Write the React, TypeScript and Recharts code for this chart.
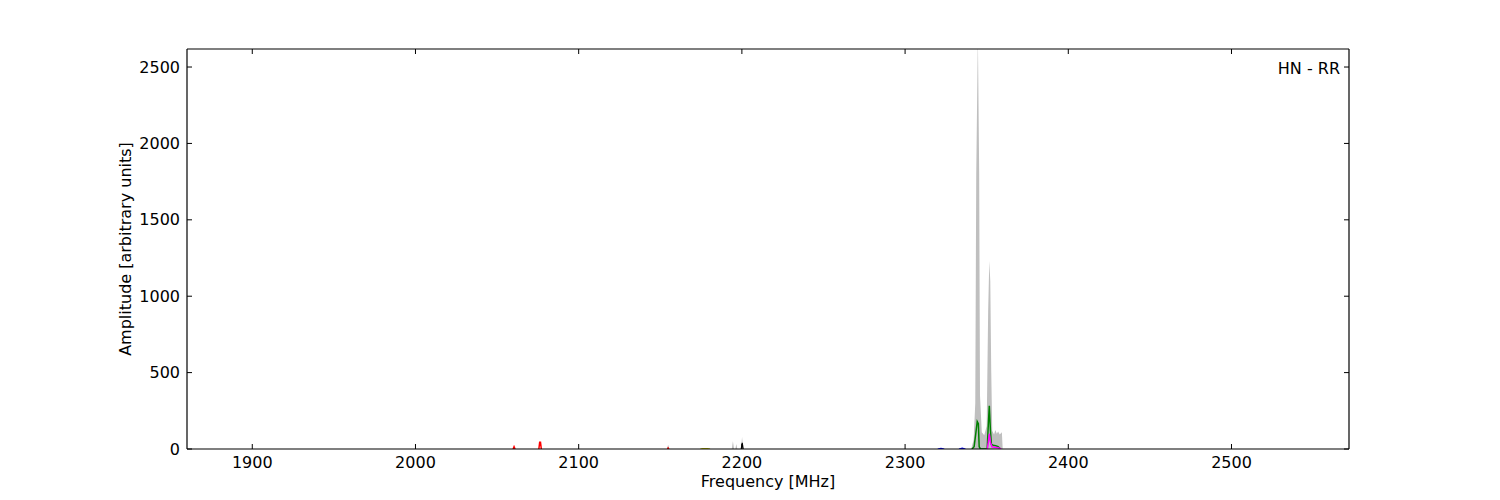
import React from "react";
import { ComposedChart, Area, Line, XAxis, YAxis } from "recharts";

const xTicks = [1900, 2000, 2100, 2200, 2300, 2400, 2500];
const yTicks = [0, 500, 1000, 1500, 2000, 2500];

const gray = [
  { f: 1860, a: 0 }, { f: 2154, a: 0 }, { f: 2154.8, a: 28 }, { f: 2155.6, a: 0 },
  { f: 2193.8, a: 0 }, { f: 2194.5, a: 50 }, { f: 2195.2, a: 0 },
  { f: 2196, a: 0 }, { f: 2196.6, a: 33 }, { f: 2197.2, a: 0 },
  { f: 2199.5, a: 0 }, { f: 2200.1, a: 78 }, { f: 2200.8, a: 0 },
  { f: 2340.5, a: 0 }, { f: 2342, a: 60 }, { f: 2343, a: 300 }, { f: 2343.6, a: 1800 },
  { f: 2344.6, a: 2700 }, { f: 2345.4, a: 1800 }, { f: 2345.9, a: 350 }, { f: 2347, a: 110 },
  { f: 2348.5, a: 90 }, { f: 2350, a: 150 }, { f: 2350.9, a: 900 }, { f: 2351.6, a: 1230 },
  { f: 2352.2, a: 1100 }, { f: 2352.8, a: 500 }, { f: 2353.4, a: 120 }, { f: 2354.5, a: 95 },
  { f: 2355.3, a: 125 }, { f: 2356.2, a: 100 }, { f: 2357, a: 115 }, { f: 2358, a: 95 },
  { f: 2359.3, a: 110 }, { f: 2359.8, a: 0 }, { f: 2572, a: 0 },
];

const green = [
  { f: 2341, a: 0 }, { f: 2342.3, a: 15 }, { f: 2343.3, a: 100 }, { f: 2344.2, a: 180 },
  { f: 2344.9, a: 165 }, { f: 2345.4, a: 15 }, { f: 2346.2, a: 0 }, { f: 2350.3, a: 0 },
  { f: 2351, a: 160 }, { f: 2351.6, a: 283 }, { f: 2352.3, a: 120 }, { f: 2352.9, a: 30 },
  { f: 2354, a: 25 }, { f: 2355.5, a: 22 }, { f: 2357, a: 15 }, { f: 2358.5, a: 0 },
];

const magenta = [
  { f: 2350.4, a: 0 }, { f: 2351, a: 45 }, { f: 2351.6, a: 100 }, { f: 2352.3, a: 45 },
  { f: 2353.2, a: 15 }, { f: 2355, a: 12 }, { f: 2357, a: 8 }, { f: 2358.8, a: 0 },
];

const red = [
  { f: 2059.8, a: 0 }, { f: 2060.4, a: 15 }, { f: 2061, a: 0 }, { f: 2068, a: null },
  { f: 2075.6, a: 0 }, { f: 2076.1, a: 45 }, { f: 2076.6, a: 45 }, { f: 2077.1, a: 0 }, { f: 2110, a: null },
  { f: 2154.4, a: 0 }, { f: 2154.8, a: 6 }, { f: 2155.2, a: 0 },
];

const black = [
  { f: 2199.6, a: 0 }, { f: 2200.2, a: 40 }, { f: 2200.8, a: 0 },
];

const blue = [
  { f: 2320, a: 0 }, { f: 2322, a: 4 }, { f: 2324, a: 0 }, { f: 2328, a: null },
  { f: 2333, a: 0 }, { f: 2335, a: 5 }, { f: 2337, a: 0 },
];

const olive = [
  { f: 2174.5, a: 0 }, { f: 2176, a: 3 }, { f: 2179, a: 3 }, { f: 2180.5, a: 0 },
];

const font = "DejaVu Sans";
const FS = 16;
const tickStyle = { fontFamily: font, fontSize: FS, fill: "#000" };
const noTick = () => <g />;

export default function App() {
  return (
    <div style={{ position: "absolute", left: 0, top: 0, width: 1500, height: 500, background: "#fff" }}>
      <ComposedChart width={1500} height={500} margin={{ top: 48, right: 150, left: 0, bottom: 0 }}>
        <XAxis
          xAxisId="b"
          type="number"
          dataKey="f"
          domain={[1860, 2572]}
          allowDataOverflow
          ticks={xTicks}
          orientation="bottom"
          height={51}
          tickSize={-5}
          tickMargin={13}
          axisLine={{ stroke: "#000", strokeWidth: 1.2 }}
          tickLine={{ stroke: "#000" }}
          tick={tickStyle}
          label={{ value: "Frequency [MHz]", position: "insideBottom", offset: 13, style: { fontFamily: font, fontSize: FS, fill: "#000" } }}
        />
        <XAxis
          xAxisId="t"
          type="number"
          dataKey="f"
          domain={[1860, 2572]}
          allowDataOverflow
          ticks={xTicks}
          orientation="top"
          height={1}
          tickSize={-5}
          axisLine={{ stroke: "#000", strokeWidth: 1.2 }}
          tickLine={{ stroke: "#000" }}
          tick={noTick}
        />
        <YAxis
          yAxisId="l"
          type="number"
          domain={[0, 2618]}
          allowDataOverflow
          ticks={yTicks}
          orientation="left"
          width={187}
          tickSize={-5}
          tickMargin={12}
          axisLine={{ stroke: "#000", strokeWidth: 1.2 }}
          tickLine={{ stroke: "#000" }}
          tick={tickStyle}
          label={{ value: "Amplitude [arbitrary units]", angle: -90, position: "center", dx: 32, style: { fontFamily: font, fontSize: FS, fill: "#000", textAnchor: "middle" } }}
        />
        <YAxis
          yAxisId="r"
          type="number"
          domain={[0, 2618]}
          allowDataOverflow
          ticks={yTicks}
          orientation="right"
          width={1}
          tickSize={-5}
          axisLine={{ stroke: "#000", strokeWidth: 1.2 }}
          tickLine={{ stroke: "#000" }}
          tick={noTick}
        />
        <Area data={gray} dataKey="a" xAxisId="b" yAxisId="l" type="linear" fill="#bfbfbf" fillOpacity={1} stroke="none" isAnimationActive={false} dot={false} activeDot={false} />
        <Line data={olive} dataKey="a" xAxisId="b" yAxisId="l" type="linear" stroke="#b5b500" strokeWidth={1.2} dot={false} isAnimationActive={false} />
        <Line data={blue} dataKey="a" xAxisId="b" yAxisId="l" type="linear" stroke="#0000ff" strokeWidth={1.2} dot={false} isAnimationActive={false} />
        <Line data={red} dataKey="a" xAxisId="b" yAxisId="l" type="linear" stroke="#ff0000" strokeWidth={1.5} dot={false} isAnimationActive={false} />
        <Line data={black} dataKey="a" xAxisId="b" yAxisId="l" type="linear" stroke="#000000" strokeWidth={1.2} dot={false} isAnimationActive={false} />
        <Line data={green} dataKey="a" xAxisId="b" yAxisId="l" type="linear" stroke="#008000" strokeWidth={1.5} dot={false} isAnimationActive={false} />
        <Line data={magenta} dataKey="a" xAxisId="b" yAxisId="l" type="linear" stroke="#ff00ff" strokeWidth={1.5} dot={false} isAnimationActive={false} />
      </ComposedChart>
      <div style={{ position: "absolute", right: 160, top: 59, fontFamily: font, fontSize: FS, color: "#000", lineHeight: "20px" }}>HN - RR</div>
    </div>
  );
}
